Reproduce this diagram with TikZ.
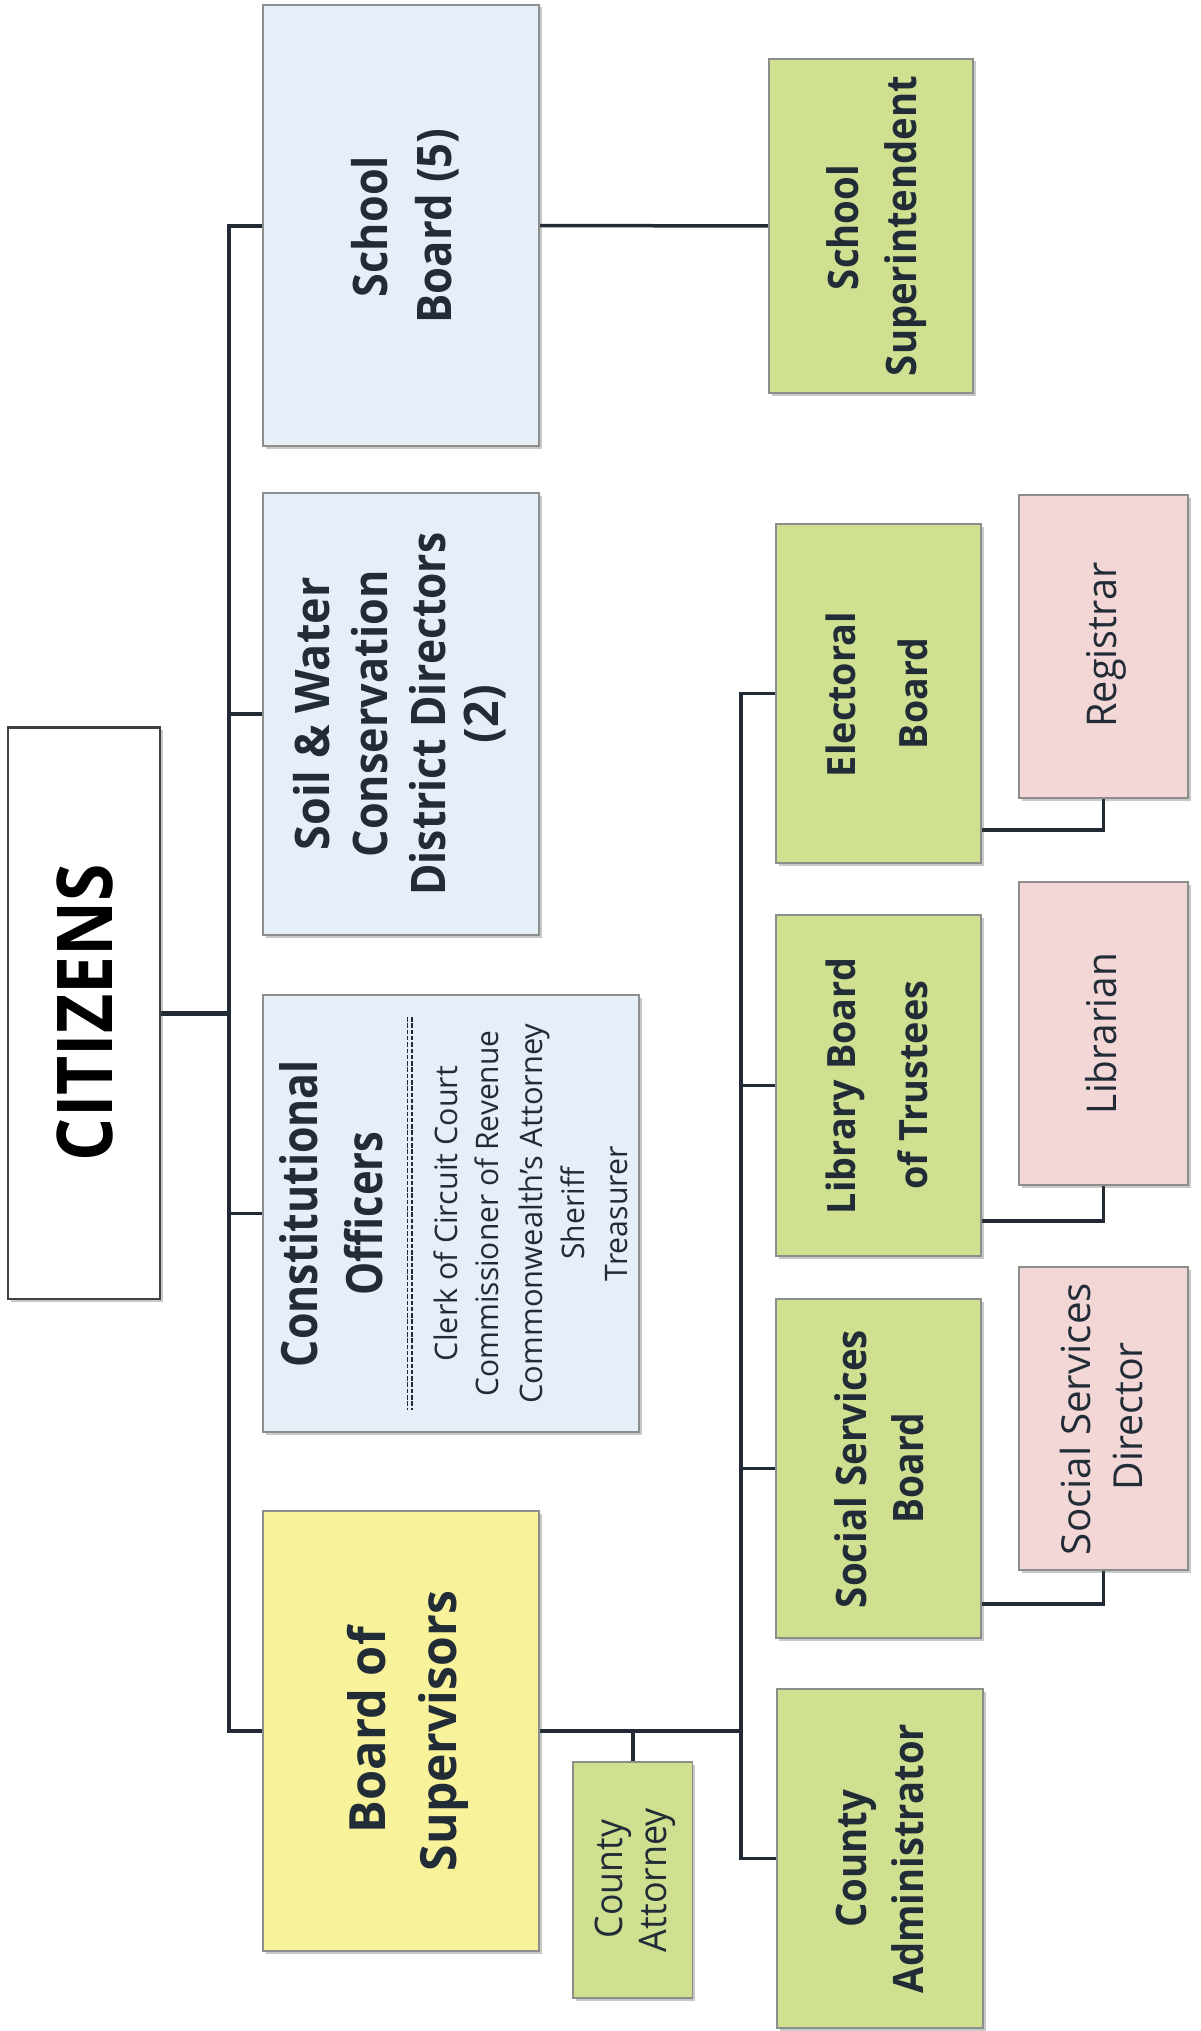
\documentclass[tikz,border=0pt]{standalone}
\usepackage{fontspec}
\usepackage{graphicx}
\setmainfont{Open Sans}
\usetikzlibrary{shadows,backgrounds}
\definecolor{txtcol}{RGB}{34,44,55}
\definecolor{linecol}{RGB}{34,43,53}
\definecolor{lblue}{RGB}{230,238,247}
\definecolor{lgreen}{RGB}{207,225,145}
\definecolor{lpink}{RGB}{243,215,215}
\definecolor{lyellow}{RGB}{248,243,154}
\definecolor{bordcol}{RGB}{140,142,140}
\newcommand\mkline[6]{\node[tline] (#1) at (#2,#3) {\resizebox{#5pt}{\height}{\fontsize{#4pt}{#4pt}\selectfont #6}};}
\tikzset{
  orgbox/.style={rectangle, draw=bordcol, line width=1.2pt, inner sep=0pt, outer sep=0pt,
    drop shadow={shadow xshift=2.5pt, shadow yshift=-2.5pt, opacity=0.3, fill=black!70}},
  tline/.style={rotate=90, anchor=base, inner sep=0pt, outer sep=0pt, text=txtcol},
  conn/.style={draw=linecol, line width=3.5pt, line join=miter},
  dashline/.style={draw=txtcol, line width=1.5pt, dash pattern=on 4.5pt off 1.8pt}
}
\begin{document}
\begin{tikzpicture}[x=1pt, y=-1pt]
\useasboundingbox (0,0) rectangle (1201,2031);

% boxes
\node[orgbox, fill=lblue, minimum width=276pt, minimum height=441pt] (sb) at (401,225.5) {};
\node[orgbox, fill=lblue, minimum width=276pt, minimum height=442pt] (soil) at (401,714) {};
\node[orgbox, fill=lblue, minimum width=376pt, minimum height=437pt] (co) at (451,1213.5) {};
\node[orgbox, fill=lyellow, minimum width=276pt, minimum height=440pt] (bos) at (401,1731) {};
\node[orgbox, fill=white, draw=black!75, line width=2.6pt, minimum width=152pt, minimum height=571.5pt] (cit) at (84,1013.25) {};
\node[orgbox, fill=lgreen, minimum width=204pt, minimum height=334pt] (sup) at (871,226) {};
\node[orgbox, fill=lgreen, minimum width=205pt, minimum height=339pt] (eb) at (878.5,693.5) {};
\node[orgbox, fill=lgreen, minimum width=205pt, minimum height=341pt] (lb) at (878.5,1085.5) {};
\node[orgbox, fill=lgreen, minimum width=205pt, minimum height=339pt] (ssb) at (878.5,1468.5) {};
\node[orgbox, fill=lgreen, minimum width=206pt, minimum height=339pt] (cadm) at (880,1858.5) {};
\node[orgbox, fill=lpink, minimum width=169pt, minimum height=303pt] (reg) at (1103.5,646.5) {};
\node[orgbox, fill=lpink, minimum width=169pt, minimum height=303pt] (lib) at (1103.5,1033.5) {};
\node[orgbox, fill=lpink, minimum width=169pt, minimum height=303pt] (ssd) at (1103.5,1418.5) {};
\node[orgbox, fill=lgreen, minimum width=119.5pt, minimum height=236pt] (ca) at (632.75,1880) {};

% trunk coordinates
\coordinate (t1) at (229,226);
\coordinate (t2) at (741,693);

% white page and connectors (behind boxes)
\begin{pgfonlayer}{background}
\fill[white] (0,0) rectangle (1201,2031);
\draw[conn, line width=4pt] (sb.west) -- (sb.west -| t1) |- (bos.west);
\draw[conn] (soil.west) -- (soil.west -| t1);
\draw[conn] (co.west) -- (co.west -| t1);
\draw[conn, line width=5pt] (cit.east) -- (cit.east -| t1);
\draw[conn] (sb.east) -- (sup.west);
\draw[conn] (eb.west) -- (eb.west -| t2) |- (cadm.west);
\draw[conn] (lb.west) -- (lb.west -| t2);
\draw[conn] (ssb.west) -- (ssb.west -| t2);
\draw[conn, line width=4.5pt] (bos.east) -- (bos.east -| t2);
\draw[conn, line width=4pt] (ca.north) -- (ca.north |- bos.east);
\draw[conn] ([yshift=33pt]eb.south east) -| (reg.south);
\draw[conn] ([yshift=35pt]lb.south east) -| (lib.south);
\draw[conn] ([yshift=34pt]ssb.south east) -| (ssd.south);
\end{pgfonlayer}

% CITIZENS
\node[tline, text=black] (citt) at (112.7,1012.5) {\resizebox{297pt}{\height}{\fontsize{77pt}{77pt}\selectfont\bfseries CITIZENS}};

% School Board
\mkline{sbt1}{387}{226.5}{47.6}{141}{\bfseries School}
\mkline{sbt2}{451.7}{226}{47.6}{195}{\bfseries Board (5)}

% Soil & Water
\mkline{swt1}{329}{714}{47.6}{273}{\bfseries Soil \& Water}
\mkline{swt2}{387}{714}{47.6}{287}{\bfseries Conservation}
\mkline{swt3}{445}{714}{47.6}{363}{\bfseries District Directors}
\mkline{swt4}{498}{714}{47.6}{58}{\bfseries (2)}

% Constitutional Officers
\mkline{cot1}{317}{1213.5}{50}{307}{\bfseries Constitutional}
\mkline{cot2}{382}{1213.5}{50}{164}{\bfseries Officers}
\draw[dashline] (407.3,1017) -- (407.3,1410);
\draw[dashline] (411.9,1017) -- (411.9,1410);
\mkline{cot3}{457}{1213.5}{31}{295}{Clerk of Circuit Court}
\mkline{cot4}{498}{1213.5}{31}{366}{Commissioner of Revenue}
\mkline{cot5}{542}{1213.5}{31}{380}{Commonwealth’s Attorney}
\mkline{cot6}{584}{1213.5}{31}{92}{Sheriff}
\mkline{cot7}{627}{1213.5}{31}{135}{Treasurer}

% Board of Supervisors
\mkline{bost1}{385}{1730}{50}{206}{\bfseries Board of}
\mkline{bost2}{456.7}{1731}{50}{280}{\bfseries Supervisors}

% School Superintendent
\mkline{supt1}{858}{227.5}{42}{125}{\bfseries School}
\mkline{supt2}{916.7}{226}{42}{300}{\bfseries Superintendent}

% Electoral Board
\mkline{ebt1}{855}{694.5}{39}{165}{\bfseries Electoral}
\mkline{ebt2}{927}{693.5}{39}{111}{\bfseries Board}
\mkline{regt}{1116}{645}{41}{165}{Registrar}

% Library Board
\mkline{lbt1}{855}{1086}{39}{256}{\bfseries Library Board}
\mkline{lbt2}{927}{1085}{39}{209}{\bfseries of Trustees}
\mkline{libt}{1116}{1033.5}{41}{161}{Librarian}

% Social Services
\mkline{ssbt1}{866}{1469}{42}{278}{\bfseries Social Services}
\mkline{ssbt2}{923}{1468}{42}{110}{\bfseries Board}
\mkline{ssdt1}{1090}{1419}{40}{272}{Social Services}
\mkline{ssdt2}{1142}{1416}{40}{148}{Director}

% County Attorney
\mkline{cat1}{622}{1879}{38}{118}{County}
\mkline{cat2}{666}{1880}{38}{144}{Attorney}

% County Administrator
\mkline{cadt1}{866}{1858.5}{42}{137}{\bfseries County}
\mkline{cadt2}{923.7}{1858.5}{42}{269}{\bfseries Administrator}
\end{tikzpicture}
\end{document}
